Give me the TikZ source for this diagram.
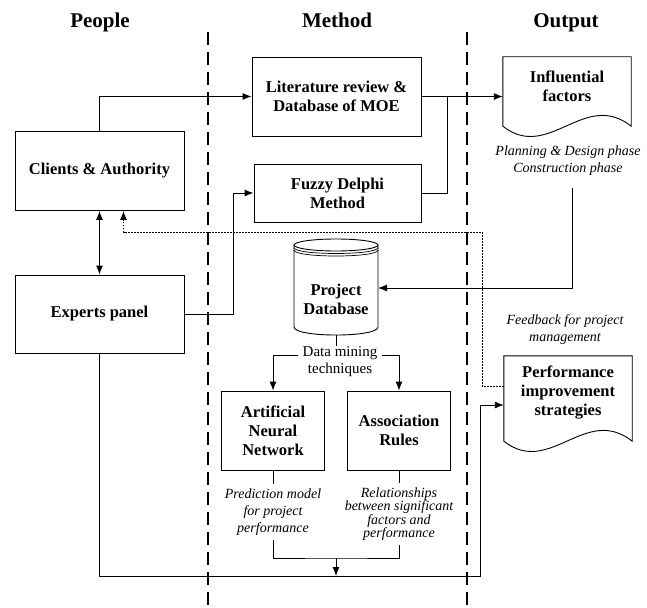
\documentclass[tikz,border=0pt]{standalone}
\usepackage{fontspec}
\setmainfont{Liberation Serif}
\usetikzlibrary{positioning,calc,arrows.meta}

% outline of a document (wavy bottom) around a node
\newcommand{\docoutline}[1]{%
  \draw[link] ($(#1.south west)+(0,11)$) -- (#1.north west) -- (#1.north east) -- ($(#1.south east)+(0,11)$)
    .. controls +(-47,-37) and +(46,36) .. ($(#1.south west)+(0,11)$) -- cycle;}

\begin{document}
\begin{tikzpicture}[
    x=1pt, y=-1pt,
    box/.style={draw, line width=0.9pt, align=center, minimum width=169pt, minimum height=79pt, inner sep=2pt, font=\fontsize{16.5}{19}\selectfont\bfseries},
    sbox/.style={box, minimum width=103pt},
    doc/.style={align=center, minimum width=128pt, inner sep=0pt, font=\fontsize{16.5}{19}\selectfont\bfseries},
    note/.style={align=center, inner xsep=1pt, inner ysep=4pt, font=\fontsize{14}{17}\selectfont\itshape},
    title/.style={font=\fontsize{21}{24}\selectfont\bfseries, text height=15pt, text depth=5pt},
    link/.style={line width=0.9pt},
    arr/.style={link, -{Latex[length=9pt,width=7pt]}},
    dbl/.style={link, {Latex[length=9pt,width=7pt]}-{Latex[length=9pt,width=7pt]}},
    fb/.style={arr, dash pattern=on 1.5pt off 1.5pt},
    sep/.style={line width=1.2pt, dash pattern=on 13pt off 7pt}
]
    \useasboundingbox (0,0) rectangle (647,607);

    % Columns
    \node[title] (tpeople) at (100,23) {People};
    \node[title] (tmethod) at (337,23) {Method};
    \node[title] (toutput) at (566,23) {Output};
    \draw[sep] (208,32) -- (208,606);
    \draw[sep] (467,32) -- (467,606);

    % People
    \node[box] (clients) at (99.5,171) {Clients \& Authority};
    \node[box, minimum height=78pt] (experts) at (99.5,314) {Experts panel};

    % Method
    \node[box] (lit) at (336.5,96.5) {Literature review \&\\Database of MOE};
    \node[box, minimum width=167pt, minimum height=58pt] (fuzzy) at (337.5,193) {Fuzzy Delphi\\Method};

    \node[doc, minimum width=84pt] (db) at (336,299) {Project\\Database};
    \draw[link] ($(db.center)+(0,-54)$) ellipse [x radius=42pt, y radius=6pt];
    \foreach \d in {2.5,5} {
        \draw[line width=0.7pt] ($(db.center)+(-42,-54+\d)$) .. controls +(0,8) and +(0,8) .. ($(db.center)+(42,-54+\d)$);
    }
    \draw[link] ($(db.center)+(-42,-54)$) -- ($(db.center)+(-42,28)$)
        .. controls +(0,10.7) and +(0,10.7) .. ($(db.center)+(42,28)$) -- ($(db.center)+(42,-54)$);
    \coordinate (dbbot) at ($(db.center)+(0,36)$);

    \node[align=center, inner xsep=5pt, inner ysep=1pt, font=\fontsize{15}{17}\selectfont] (dm) at (340,362) {Data mining\\techniques};

    \node[sbox] (ann) at (273,430.5) {Artificial\\Neural\\Network};
    \node[sbox] (ar) at (399,430.5) {Association\\Rules};
    \node[note] (annlbl) at (273,512) {Prediction model\\for project\\performance};
    \node[note, font=\fontsize{14}{13.5}\selectfont\itshape] (arlbl) at (399,514) {Relationships\\between significant\\factors and\\performance};

    % Output
    \node[doc, minimum height=58pt] (infl) at (567,86) {Influential\\factors};
    \docoutline{infl}
    \node[note] (infllbl) at (568,161) {Planning \& Design phase\\Construction phase};
    \node[note] (fblbl) at (565,330) {Feedback for project\\management};
    \node[doc, minimum height=74pt] (perf) at (568,393) {Performance\\improvement\\strategies};
    \docoutline{perf}

    % Connections
    \coordinate (join) at (336,558);
    \coordinate (busr) at (480,576);
    \coordinate (fbr) at (482,232);

    \draw[arr] (clients.north) |- (lit.west);
    \draw[dbl] (clients) -- (experts);
    \draw[arr] (experts.east) -- ++(49,0) |- (fuzzy.west);
    \draw[link] (fuzzy.east) -- ++(26,0) |- (lit.east);
    \draw[arr] (lit.east) -- (lit.east -| infl.west);
    \draw[arr] ($(infllbl.south)+(4,8)$) |- ($(db.center)+(42,-11)$);
    \draw[link] (dbbot) -- (dbbot |- dm.north);
    \draw[arr] ($(dm.west)+(0,-7)$) -| (ann);
    \draw[arr] ($(dm.east)+(0,-7)$) -| (ar);
    \draw[link] (ann) -- (annlbl);
    \draw[link] (ar.south) -- (ar.south |- arlbl.north);
    \draw[link] (annlbl.south) |- (join) -| (arlbl.south);
    \draw[arr] (join) -- (join |- busr);
    \draw[arr] (experts.south) |- (busr) |- ($(perf.west)+(0,12)$);
    \draw[fb] ($(perf.west)+(0,-7)$) -| (fbr) -| ($(clients.south)+(24,0)$);
\end{tikzpicture}
\end{document}
